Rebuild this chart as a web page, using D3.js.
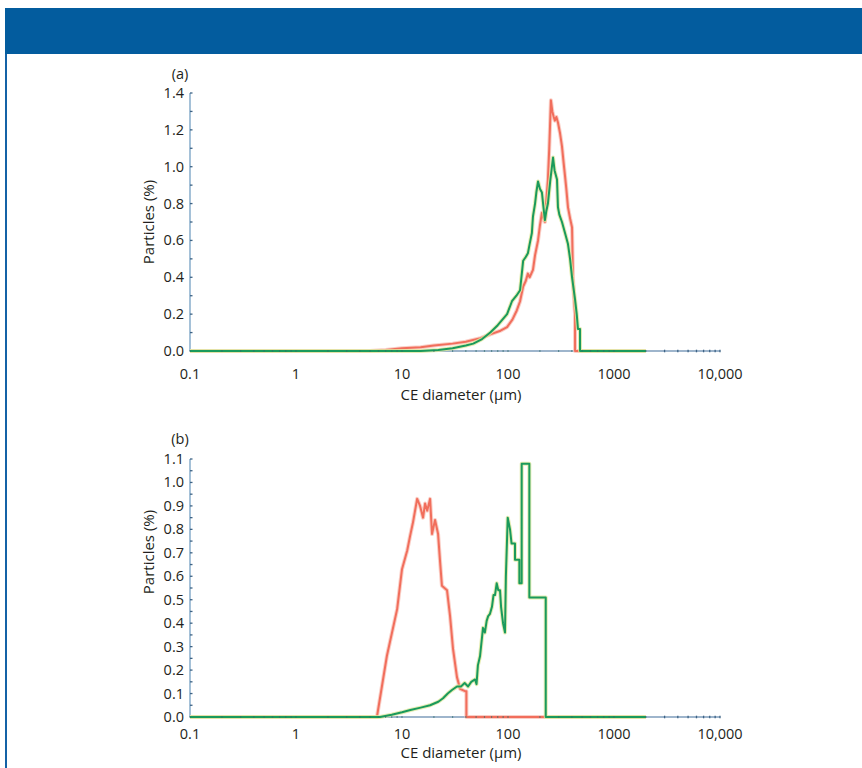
<!DOCTYPE html>
<html>
<head>
<meta charset="utf-8">
<script src="https://cdn.jsdelivr.net/npm/d3@7"></script>
<style>
  html, body { margin: 0; padding: 0; background: #fff; }
  svg { display: block; font-family: "Open Sans", "Noto Sans", sans-serif; }
  .tick-label { font-size: 14.5px; fill: #231f20; }
  .axis-title { font-size: 15px; fill: #231f20; }
</style>
</head>
<body>
<div id="chart"></div>
<script>
// x axis (shared)
const xTickValues = [0.1, 1, 10, 100, 1000, 10000];
const xTickLabels = ["0.1", "1", "10", "100", "1000", "10,000"];

// panel (a)
const yTicksA = [0, 0.2, 0.4, 0.6, 0.8, 1.0, 1.2, 1.4];
const diameterRedA = [0.1, 5, 7, 10, 15, 20, 30, 40, 55, 68, 85, 98, 110, 121, 130, 139, 147, 154, 160, 172, 180, 192, 200, 209, 216, 223, 230, 238, 245, 254, 262, 270, 277, 286, 296, 310, 323, 335, 345, 355, 368, 385, 402, 410, 420, 429, 429, 2000];
const particlesRedA = [0, 0, 0.005, 0.015, 0.02, 0.03, 0.04, 0.05, 0.07, 0.09, 0.11, 0.13, 0.17, 0.22, 0.27, 0.35, 0.38, 0.42, 0.40, 0.44, 0.52, 0.60, 0.68, 0.75, 0.72, 0.70, 0.82, 0.93, 1.10, 1.36, 1.30, 1.27, 1.25, 1.27, 1.24, 1.18, 1.11, 1.02, 0.95, 0.88, 0.78, 0.72, 0.67, 0.40, 0.28, 0.20, 0, 0];
const diameterGreenA = [0.1, 15, 22, 30, 40, 47, 57, 68, 80, 98, 109, 120, 130, 135, 139, 147, 154, 160, 168, 172, 180, 185, 192, 200, 209, 216, 223, 230, 238, 250, 266, 275, 290, 296, 305, 323, 345, 368, 385, 402, 429, 445, 457, 478, 478, 2000];
const particlesGreenA = [0, 0, 0.005, 0.015, 0.03, 0.04, 0.065, 0.10, 0.14, 0.20, 0.27, 0.30, 0.33, 0.42, 0.49, 0.51, 0.53, 0.58, 0.64, 0.73, 0.80, 0.86, 0.92, 0.88, 0.86, 0.78, 0.71, 0.76, 0.80, 0.92, 1.05, 0.98, 0.93, 0.78, 0.74, 0.70, 0.64, 0.58, 0.50, 0.40, 0.28, 0.20, 0.12, 0.12, 0, 0];

// panel (b)
const yTicksB = [0, 0.1, 0.2, 0.3, 0.4, 0.5, 0.6, 0.7, 0.8, 0.9, 1.0, 1.1];
const diameterRedB = [0.1, 5.8, 7.2, 9.0, 10, 11.2, 11.9, 12.7, 13.9, 14.8, 15.8, 16.5, 17.3, 18.4, 19.2, 20.5, 21.9, 22.8, 23.8, 26.6, 28.4, 30.3, 33.0, 35.3, 39.3, 40.5, 40.5, 2000];
const particlesRedB = [0, 0, 0.26, 0.46, 0.63, 0.71, 0.77, 0.83, 0.93, 0.90, 0.85, 0.91, 0.88, 0.93, 0.78, 0.84, 0.78, 0.67, 0.56, 0.54, 0.43, 0.29, 0.17, 0.12, 0.11, 0.11, 0, 0];
const diameterGreenB = [0.1, 6.2, 8, 10, 12, 15, 18.4, 22, 24.4, 27, 29.6, 33, 36, 39, 42, 45, 48.9, 50.5, 52, 54.5, 58.1, 60.5, 62.9, 65, 67.6, 70.6, 73, 75.4, 78.2, 81, 84.1, 86, 89.8, 93.7, 95.5, 99.4, 104.5, 108, 116.4, 116.4, 128, 128, 134.6, 134.6, 159, 159, 227, 227, 2000];
const particlesGreenB = [0, 0, 0.01, 0.02, 0.03, 0.04, 0.05, 0.065, 0.08, 0.10, 0.115, 0.13, 0.13, 0.145, 0.13, 0.15, 0.16, 0.14, 0.22, 0.26, 0.38, 0.36, 0.41, 0.43, 0.44, 0.47, 0.52, 0.52, 0.57, 0.54, 0.54, 0.47, 0.40, 0.36, 0.60, 0.85, 0.80, 0.74, 0.74, 0.67, 0.67, 0.57, 0.57, 1.08, 1.08, 0.51, 0.51, 0, 0];

const width = 862;
const height = 768;
const RED = "#f16e5c";
const GREEN = "#1a9a5c";

const svg = d3.select("#chart").append("svg")
  .attr("width", width)
  .attr("height", height);

// header band and left rule
svg.append("rect")
  .attr("x", 5).attr("y", 8)
  .attr("width", width - 5).attr("height", 46)
  .attr("fill", "#035c9e");
svg.append("rect")
  .attr("x", 5).attr("y", 54)
  .attr("width", 2).attr("height", height - 54)
  .attr("fill", "#1462a6");

const x = d3.scaleLog().domain([0.1, 10000]).range([190, 720]);

// minor log ticks for every decade
const xMinor = [];
for (let p = -1; p < 4; p++) {
  for (let k = 1; k <= 9; k++) xMinor.push(k * Math.pow(10, p));
}
xMinor.push(10000);

const panels = [
  {
    tag: "(a)", tagY: 79,
    y: d3.scaleLinear().domain([0, 1.4]).range([351, 93]),
    ticks: yTicksA, minorStep: 0.1, fmt: d3.format(".1f"),
    titleCenter: 222, tickOffset: 28, titleOffset: 49,
    series: [
      { d: diameterRedA, v: particlesRedA, color: RED, halo: "#f9c2b8" },
      { d: diameterGreenA, v: particlesGreenA, color: GREEN, halo: "#dfe79f" },
    ],
  },
  {
    tag: "(b)", tagY: 444,
    y: d3.scaleLinear().domain([0, 1.1]).range([717, 459]),
    ticks: yTicksB, minorStep: 0.05, fmt: d3.format(".1f"),
    titleCenter: 552, tickOffset: 21.5, titleOffset: 41,
    series: [
      { d: diameterRedB, v: particlesRedB, color: RED, halo: "#f9c2b8" },
      { d: diameterGreenB, v: particlesGreenB, color: GREEN, halo: "#dfe79f" },
    ],
  },
];

panels.forEach((panel) => {
  const y = panel.y;
  const g = svg.append("g");
  const [y0, y1] = y.range();
  const x0 = x(0.1);

  const yMinor = d3.range(0, y.domain()[1] + 1e-9, panel.minorStep);

  // axis lines
  g.append("line")
    .attr("x1", x0).attr("x2", x0)
    .attr("y1", y0).attr("y2", y1)
    .attr("stroke", "#8fb2cf").attr("stroke-width", 1.6);
  g.append("line")
    .attr("x1", x0).attr("x2", x(10000))
    .attr("y1", y0).attr("y2", y0)
    .attr("stroke", "#7e9dbb").attr("stroke-width", 1.6);

  // tick dots
  g.append("g").selectAll("line")
    .data(yMinor)
    .join("line")
    .attr("x1", x0).attr("x2", x0 + 2.5)
    .attr("y1", (v) => y(v)).attr("y2", (v) => y(v))
    .attr("stroke", "#3d6385").attr("stroke-width", 1.3);

  // series (drawn red first, green on top)
  const line = d3.line()
    .x((p) => x(p.d))
    .y((p) => y(p.v));
  panel.series.forEach((s) => {
    const pts = s.d.map((d, i) => ({ d, v: s.v[i] }));
    g.append("path")
      .datum(pts)
      .attr("fill", "none")
      .attr("stroke", s.halo)
      .attr("stroke-width", 4)
      .attr("stroke-linejoin", "round")
      .attr("opacity", 0.8)
      .attr("d", line);
    g.append("path")
      .datum(pts)
      .attr("fill", "none")
      .attr("stroke", s.color)
      .attr("stroke-width", 2)
      .attr("stroke-linejoin", "round")
      .attr("d", line);
  });

  g.append("g").selectAll("line")
    .data(xMinor.filter((v) => x(v) > x(2000)))
    .join("line")
    .attr("x1", (v) => x(v)).attr("x2", (v) => x(v))
    .attr("y1", y0 - 1.3).attr("y2", y0 + 1.3)
    .attr("stroke", "#3d6385").attr("stroke-width", 1.3);
  g.append("g").selectAll("line")
    .data(xMinor.filter((v) => x(v) <= x(2000)))
    .join("line")
    .attr("x1", (v) => x(v)).attr("x2", (v) => x(v))
    .attr("y1", y0 - 1).attr("y2", y0 + 1)
    .attr("stroke", "#2f6c6a").attr("stroke-width", 1.2)
    .attr("opacity", 0.6);

  // y tick labels
  g.append("g").selectAll("text")
    .data(panel.ticks)
    .join("text")
    .attr("class", "tick-label")
    .attr("x", x0 - 6)
    .attr("y", (v) => y(v) + 5)
    .attr("text-anchor", "end")
    .text((v) => panel.fmt(v));

  // x tick labels
  g.append("g").selectAll("text")
    .data(xTickValues)
    .join("text")
    .attr("class", "tick-label")
    .attr("x", (v) => x(v))
    .attr("y", y0 + panel.tickOffset)
    .attr("text-anchor", "middle")
    .text((v, i) => xTickLabels[i]);

  g.append("text")
    .attr("class", "axis-title")
    .attr("x", 461)
    .attr("y", y0 + panel.titleOffset)
    .attr("text-anchor", "middle")
    .text("CE diameter (µm)");

  g.append("text")
    .attr("class", "axis-title")
    .attr("transform", `translate(154, ${panel.titleCenter}) rotate(-90)`)
    .attr("text-anchor", "middle")
    .text("Particles (%)");

  g.append("text")
    .attr("class", "tick-label")
    .attr("x", 180)
    .attr("y", panel.tagY)
    .attr("text-anchor", "middle")
    .text(panel.tag);
});
</script>
</body>
</html>
